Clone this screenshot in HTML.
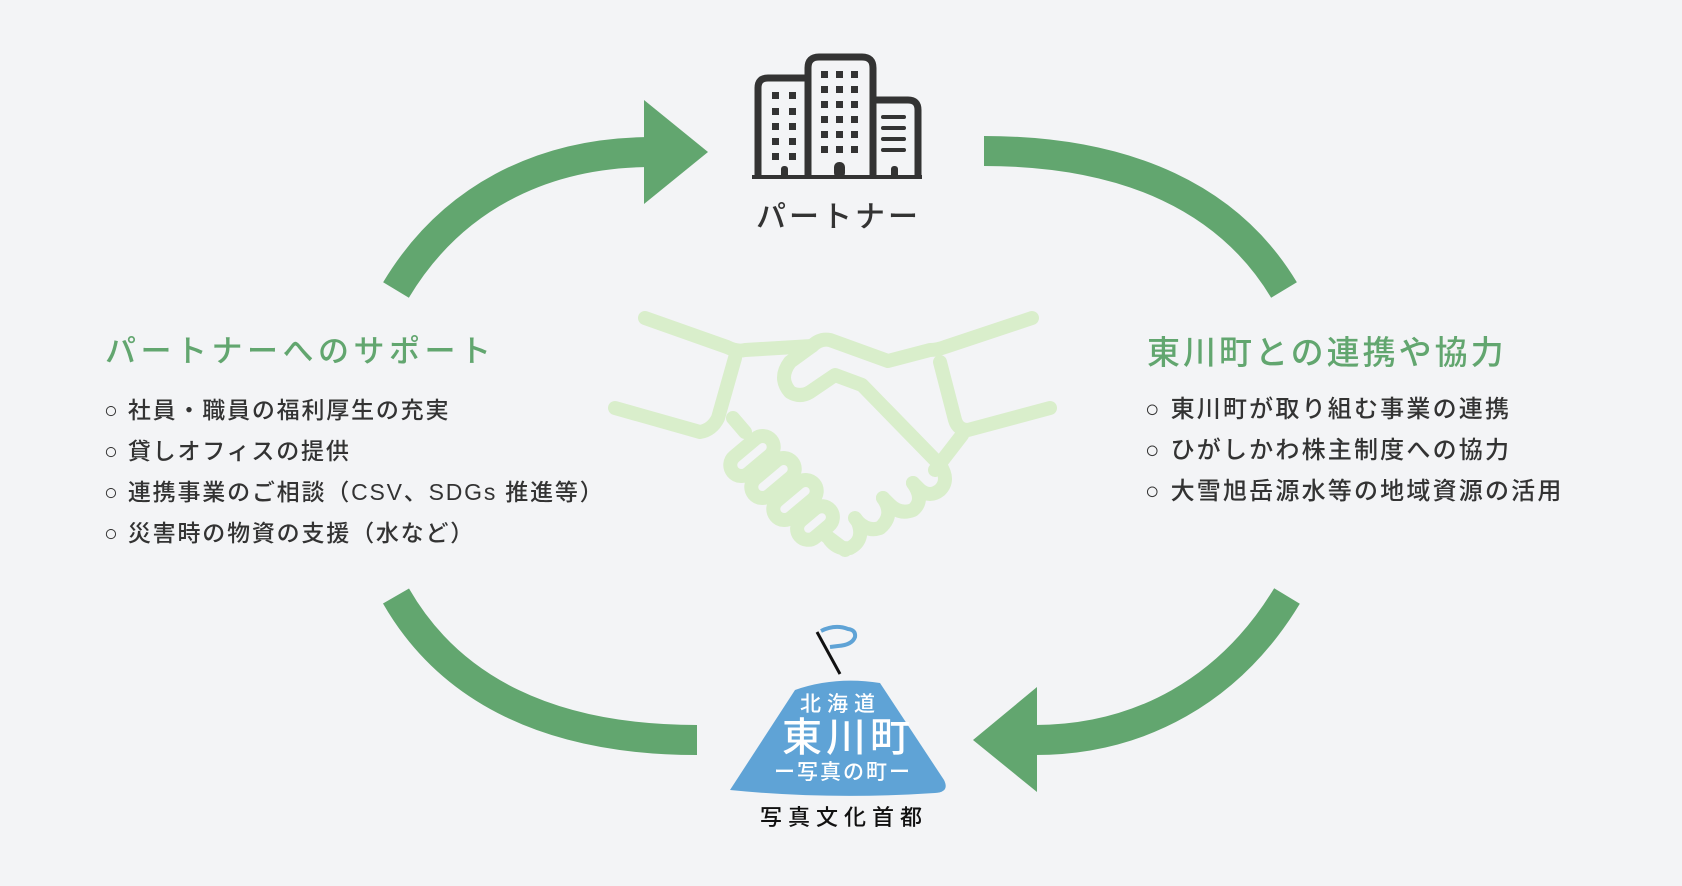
<!DOCTYPE html>
<html><head><meta charset="utf-8"><style>
html,body{margin:0;padding:0}
body{width:1682px;height:886px;background:#f3f4f6;position:relative;overflow:hidden;font-family:"Liberation Sans","Noto Sans CJK JP",sans-serif;color:#333}
.t{position:absolute;white-space:nowrap;line-height:1;font-weight:500}
.g{color:#62a66f}
</style></head><body>
<svg width="1682" height="886" style="position:absolute;left:0;top:0">
<g fill="none" stroke="#62a66f" stroke-width="30">
<path d="M396,290 C450,200 540,152 652,152"/>
<path d="M984,151 C1130,151 1230,200 1284,290"/>
<path d="M396,596 C450,690 550,740 697,740"/>
<path d="M1287,596 C1230,690 1140,740 1035,740"/>
</g>
<g fill="#62a66f">
<polygon points="644,100 708,152 644,204"/>
<polygon points="1037,687 973,740 1037,792"/>
</g>
<g fill="none" stroke="#d9eecb" stroke-width="14" stroke-linecap="round" stroke-linejoin="round">
<path d="M645,318 L727,347 Q737,352 745,350 L812,346"/>
<path d="M615,408 L700,432 Q712,430 718,418 L735,358"/>
<path d="M1032,318 L945,347 Q937,350 930,350 L888,361 L830,340 Q820,338 812,346 L790,362 Q778,378 790,392 Q800,398 810,392 L835,375 L862,385 L940,465 Q950,480 940,490 Q930,498 920,490 L913,483"/>
<path d="M1050,408 L968,430 Q958,430 955,420 L940,362"/>
<path d="M962,435 L935,470"/>
<path d="M913,483 Q925,500 913,510 Q900,515 890,505 L883,498"/>
<path d="M883,498 Q895,515 880,528 Q868,532 858,522 L855,518"/>
<path d="M858,522 Q865,540 850,548 Q838,550 830,540"/>
<path d="M733,418 L745,432"/>
<rect x="727" y="445" width="50" height="22" rx="11" transform="rotate(-40 752 456)"/>
<rect x="748" y="467" width="50" height="22" rx="11" transform="rotate(-40 773 478)"/>
<rect x="770" y="489" width="50" height="22" rx="11" transform="rotate(-40 795 500)"/>
<rect x="795" y="512" width="40" height="22" rx="11" transform="rotate(-40 815 523)"/>
<path d="M825,535 L845,550"/>
</g>
<g fill="none" stroke="#333" stroke-width="7">
<path d="M758,178 V88 Q758,78 768,78 H806"/>
<path d="M808,178 V68 Q808,57 819,57 H862 Q873,57 873,68 V178"/>
<path d="M873,100 H908 Q918,100 918,110 V178"/>
</g>
<g fill="#333">
<rect x="752" y="175" width="170" height="4"/>
<rect x="772" y="92" width="7" height="7"/><rect x="789" y="92" width="7" height="7"/>
<rect x="772" y="108" width="7" height="7"/><rect x="789" y="108" width="7" height="7"/>
<rect x="772" y="123" width="7" height="7"/><rect x="789" y="123" width="7" height="7"/>
<rect x="772" y="138" width="7" height="7"/><rect x="789" y="138" width="7" height="7"/>
<rect x="772" y="153" width="7" height="7"/><rect x="789" y="153" width="7" height="7"/>
<rect x="781" y="166" width="7" height="12" rx="3"/>
<rect x="821" y="71" width="7" height="7"/><rect x="836" y="71" width="7" height="7"/><rect x="851" y="71" width="7" height="7"/>
<rect x="821" y="86" width="7" height="7"/><rect x="836" y="86" width="7" height="7"/><rect x="851" y="86" width="7" height="7"/>
<rect x="821" y="101" width="7" height="7"/><rect x="836" y="101" width="7" height="7"/><rect x="851" y="101" width="7" height="7"/>
<rect x="821" y="116" width="7" height="7"/><rect x="836" y="116" width="7" height="7"/><rect x="851" y="116" width="7" height="7"/>
<rect x="821" y="131" width="7" height="7"/><rect x="836" y="131" width="7" height="7"/><rect x="851" y="131" width="7" height="7"/>
<rect x="821" y="146" width="7" height="7"/><rect x="836" y="146" width="7" height="7"/><rect x="851" y="146" width="7" height="7"/>
<rect x="834" y="162" width="11" height="16" rx="5"/>
<rect x="881" y="115" width="25" height="4" rx="2"/><rect x="881" y="126" width="25" height="4" rx="2"/>
<rect x="881" y="137" width="25" height="4" rx="2"/><rect x="881" y="148" width="25" height="4" rx="2"/>
<rect x="891" y="166" width="7" height="12" rx="3"/>
</g>
<path d="M730,790 L795,690 Q835,676 880,683 L944,780 Q950,792 935,793 Q830,800 730,790 Z" fill="#5fa3d6"/>
<line x1="817" y1="632" x2="840" y2="674" stroke="#111" stroke-width="3"/>
<path d="M821,631 Q835,624 848,629 Q856,630 855,637 Q852,645 838,646 L830,647" fill="none" stroke="#5fa3d6" stroke-width="4"/>
</svg>
<div class="t" style="left:756px;top:203px;font-size:30px;letter-spacing:3px">パートナー</div>
<div class="t g" style="left:105px;top:336px;font-size:31px;letter-spacing:4.5px">パートナーへのサポート</div>
<div class="t" style="left:104px;top:390px;font-size:23px;line-height:41px;letter-spacing:1.8px">○ 社員・職員の福利厚生の充実<br>○ 貸しオフィスの提供<br>○ 連携事業のご相談（CSV、SDGs 推進等）<br>○ 災害時の物資の支援（水など）</div>
<div class="t g" style="left:1147px;top:336px;font-size:33px;letter-spacing:3px">東川町との連携や協力</div>
<div class="t" style="left:1145px;top:389px;font-size:24px;line-height:41px;letter-spacing:2.2px">○ 東川町が取り組む事業の連携<br>○ ひがしかわ株主制度への協力<br>○ 大雪旭岳源水等の地域資源の活用</div>
<div class="t" style="left:800px;top:694px;font-size:21px;color:#fff;letter-spacing:6px">北海道</div>
<div class="t" style="left:782px;top:718px;font-size:40px;color:#fff;letter-spacing:4px">東川町</div>
<div class="t" style="left:774px;top:762px;font-size:21px;color:#fff;letter-spacing:2px">ー写真の町ー</div>
<div class="t" style="left:760px;top:807px;font-size:22px;color:#111;letter-spacing:6px">写真文化首都</div>
</body></html>
